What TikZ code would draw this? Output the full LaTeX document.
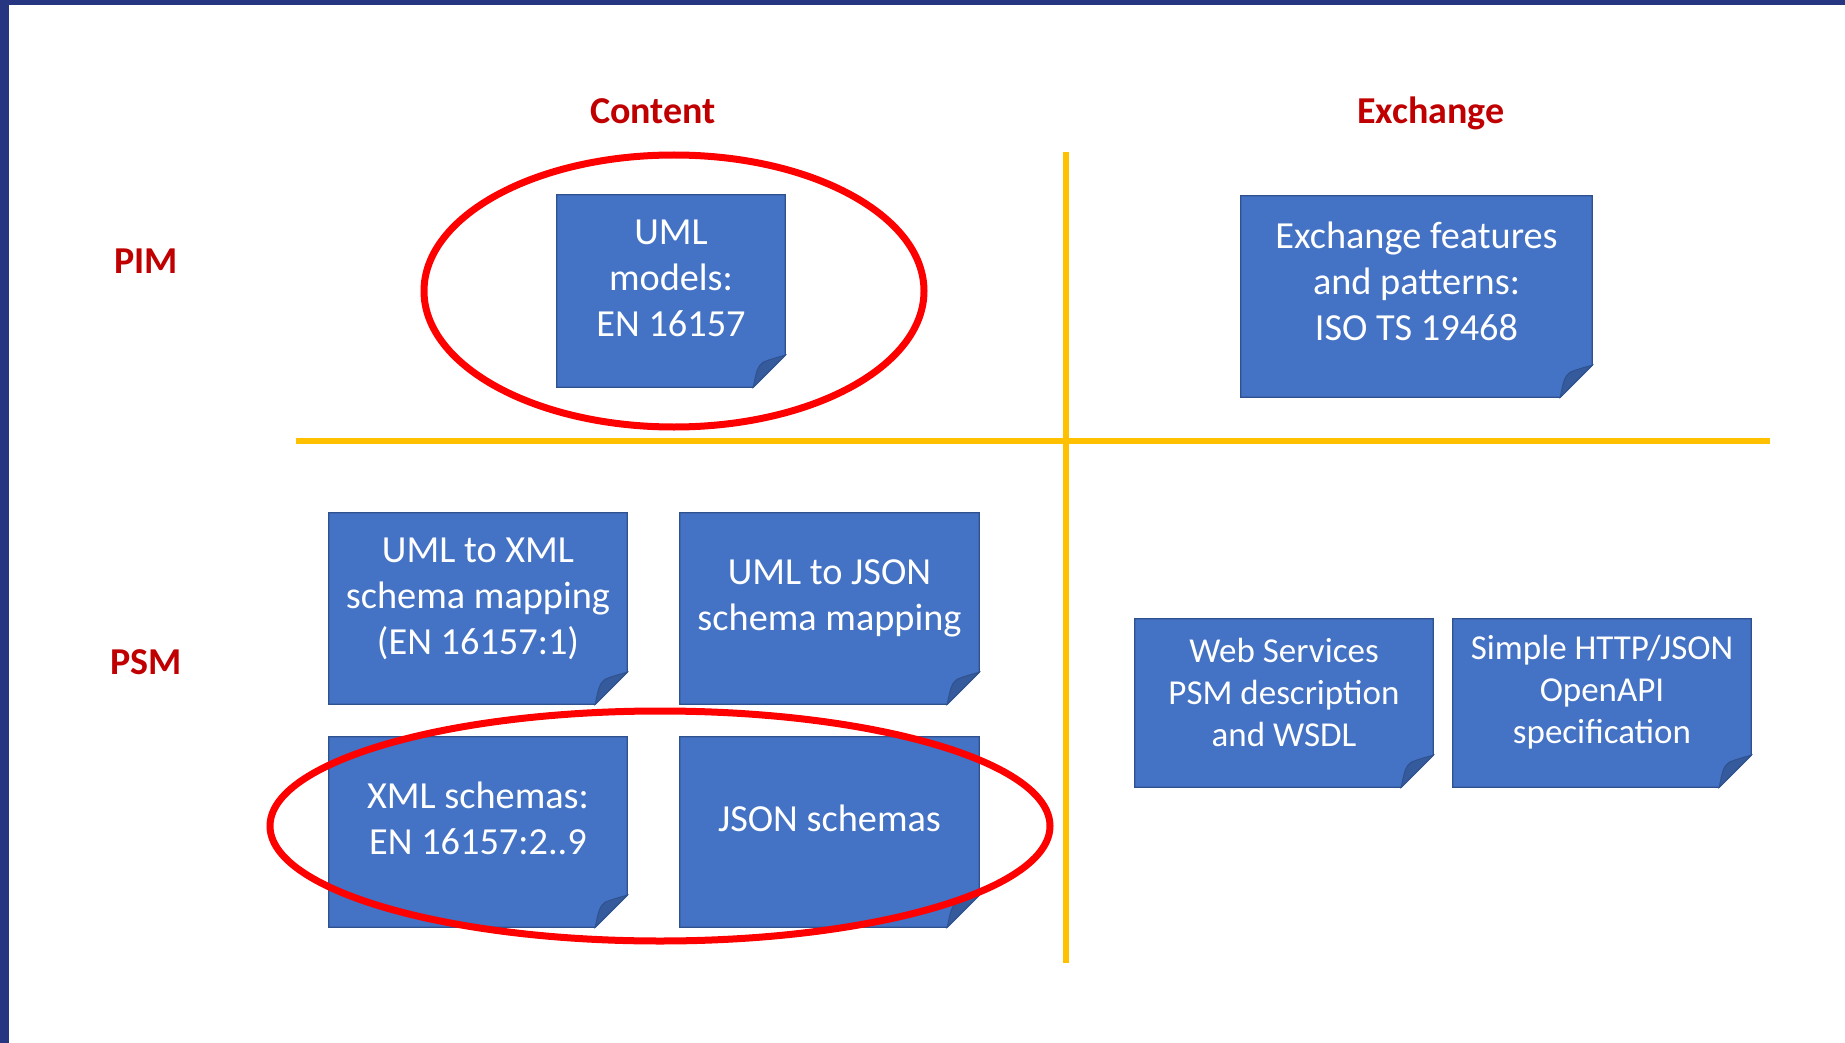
\documentclass[tikz,border=0pt]{standalone}
\usepackage{fontspec}
\setmainfont{Carlito}
\usetikzlibrary{calc,backgrounds}
\pgfdeclarelayer{deepback}
\pgfsetlayers{deepback,background,main}
\definecolor{frameblue}{HTML}{263680}
\definecolor{boxblue}{HTML}{4472C4}
\definecolor{boxedge}{HTML}{2F528F}
\definecolor{foldblue}{HTML}{365B9D}
\definecolor{gold}{HTML}{FFC000}
\definecolor{headred}{HTML}{C00000}
\definecolor{ringred}{HTML}{FF0000}
\begin{document}
\begin{tikzpicture}[x=1pt,y=-1pt,
  notetext/.style={inner sep=0pt, align=center, text=white,
    font=\fontsize{38.3}{46}\selectfont},
  smalltext/.style={notetext, font=\fontsize{35}{42}\selectfont},
  heading/.style={inner sep=0pt, text=headred,
    font=\fontsize{38}{45}\selectfont\bfseries},
  divider/.style={draw=gold, line width=6pt},
  ring/.style={draw=ringred, line width=7pt},
]
\useasboundingbox (0,0) rectangle (1845,1043);
\begin{pgfonlayer}{deepback}
\fill[white] (0,0) rectangle (1845,1043);
\fill[frameblue] (0,0) rectangle (9,1043);
\fill[frameblue] (0,0) rectangle (1845,5);
\end{pgfonlayer}

% headings
\node[heading, anchor=base] (hcontent) at (653,123.5) {Content};
\node[heading, anchor=base] (hexchange) at (1431,123.5) {Exchange};
\node[heading] (hpim) at (146,261) {PIM};
\node[heading] (hpsm) at (146,662) {PSM};

% dividers
\coordinate (vtop) at (1065.5,152);
\coordinate (vbot) at (1065.5,963);
\coordinate (hleft) at (296,441);
\coordinate (hright) at (1770,441);
\draw[divider] (vtop) -- (vbot);
\draw[divider] (hleft) -- (hright);

% notes: node = text area (shifted down by s); the note outline is drawn from it
\node[notetext, minimum width=228pt, minimum height=160pt] (uml) at (671,278) {UML\\models:\\EN 16157};
\node[notetext, minimum width=351pt, minimum height=169pt] (exch) at (1416.5,281.5) {Exchange features\\and patterns:\\ISO TS 19468};
\node[notetext, minimum width=298pt, minimum height=159pt] (xmlmap) at (478,598.5) {UML to XML\\schema mapping\\(EN 16157:1)};
\node[notetext, minimum width=299pt, minimum height=159pt] (jsonmap) at (829.5,598.5) {UML to JSON\\schema mapping};
\node[notetext, minimum width=298pt, minimum height=158pt] (xmlsch) at (478,818) {XML schemas:\\EN 16157:2..9};
\node[notetext, minimum width=299pt, minimum height=158pt] (jsonsch) at (829.5,818) {JSON schemas};
\node[smalltext, minimum width=298pt, minimum height=136pt] (ws) at (1284,692) {Web Services\\PSM description\\and WSDL};
\node[smalltext, minimum width=298pt, minimum height=136pt] (http) at (1602,692) {Simple HTTP/JSON\\OpenAPI\\specification};

\begin{pgfonlayer}{background}
\foreach \n/\s in {uml/3,exch/1,xmlmap/6,jsonmap/6,xmlsch/2,jsonsch/2,ws/5,http/5}{
  \coordinate (nw) at ($(\n.north west)+(0pt,\s pt)$);
  \coordinate (ne) at ($(\n.north east)+(0pt,\s pt)$);
  \coordinate (cA) at ($(\n.south east)+(0pt,\s pt)$);
  \coordinate (cB) at ($(cA)+(-32pt,-32pt)$);
  \coordinate (sw) at ($(\n.south west)+(0pt,\s pt-32pt)$);
  \filldraw[fill=boxblue, draw=boxedge, line width=1.2pt]
    (nw) -- (ne) -- (cA) -- (cB) -- (sw) -- cycle;
  \filldraw[fill=foldblue, draw=boxedge, line width=1pt]
    (cB)
    .. controls ($(cA)+(-29pt,-18pt)$) and ($(cA)+(-28pt,-11pt)$) .. ($(cA)+(-22pt,-7pt)$)
    .. controls ($(cA)+(-15pt,-4pt)$) and ($(cA)+(-7pt,-2pt)$) .. (cA)
    -- cycle;
}
\end{pgfonlayer}

% red rings
\draw[ring] (674,291) ellipse [x radius=250pt, y radius=136pt];
\draw[ring] (660,826) ellipse [x radius=390pt, y radius=115pt];
\end{tikzpicture}
\end{document}
